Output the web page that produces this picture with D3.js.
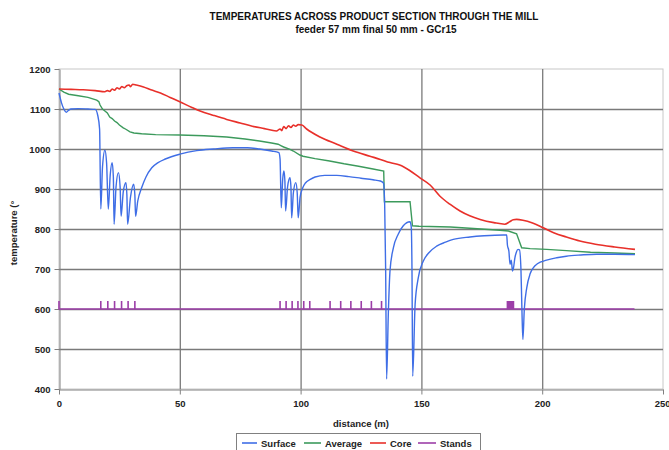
<!DOCTYPE html>
<html>
<head>
<meta charset="utf-8">
<script src="https://cdn.jsdelivr.net/npm/d3@7"></script>
<style>
  html, body { margin: 0; padding: 0; background: #ffffff; }
  svg { display: block; font-family: "Liberation Sans", Arial, sans-serif; }
</style>
</head>
<body>
<svg id="chart" width="669" height="450"></svg>
<script>
// ---------------- data ----------------
const titleLine1 = "TEMPERATURES ACROSS PRODUCT SECTION THROUGH THE MILL";
const titleLine2 = "feeder 57 mm final 50 mm - GCr15";
const xAxisTitle = "distance (m)";
const yAxisTitle = "temperature (°";
const xTicks = [0, 50, 100, 150, 200, 250];
const yTicks = [400, 500, 600, 700, 800, 900, 1000, 1100, 1200];
const seriesNames = ["Surface", "Average", "Core", "Stands"];

// Surface temperature [distance, temp]
const surface = [
  [0,1140],[1,1116],[2,1100],[3,1092],[4,1097],[5,1100],[8,1101],[12,1100],[15,1099],[16,1085],[16.8,1050],
  [17.3,850],[18,955],[19,997],[19.7,965],[20.4,850],[21.2,935],[22,966],[22.5,930],[22.8,812],
  [23.6,905],[24.6,941],[25.3,905],[25.7,832],[26.6,893],[27.7,916],[28.1,885],[28.4,812],
  [29.6,880],[30.9,912],[31.4,885],[31.7,832],[32.6,870],[34.2,903],[36,930],[38.4,953],[41,966],
  [44,975],[50,987],[57,996],[64,1000],[72,1003],[78,1003],[83,1000],[88,995],[91,991],[91.5,975],
  [92,853],[92.6,925],[93.1,945],[93.5,920],[93.8,845],[94.6,905],[95.6,928],[96,905],[96.3,828],
  [97,890],[98,916],[98.6,890],[99,828],[99.8,880],[100.9,903],[102,915],[104,924],[106,930],
  [110,934],[115,934],[120,931],[125,927],[130,923],[133,920],[134.3,915],[134.8,860],[135.2,700],
  [135.6,425],[136.3,587],[137,695],[138.4,753],[140.4,787],[142.5,808],[145.3,818],[145.8,805],
  [146.1,700],[146.4,432],[147.4,612],[148.7,678],[150.8,720],[153,740],[156.3,757],[160,767],
  [163.2,774],[170.1,780],[176,783],[183.9,785],[185.3,785],[185.6,760],[186.2,745],[186.7,712],
  [187.2,722],[187.7,695],[188.1,702],[188.7,728],[189.3,742],[190,749],[190.6,748],[191.2,700],
  [191.6,600],[192,524],[192.6,600],[193.6,653],[195,688],[196.3,703],[198,713],[201.8,722],
  [206,728],[210,732],[216,735],[222.5,737],[230,737],[238.4,736]
];

// Average temperature
const average = [
  [0,1150],[2,1142],[4,1137],[8,1133],[12,1129],[15.6,1122],[16.5,1118],[17,1110],[18,1100],[19,1095],
  [20,1090],[21,1080],[22,1076],[23,1070],[24,1066],[25,1060],[26.6,1053],[27.5,1050],[29.4,1043],
  [31,1040],[34.2,1038],[40,1036],[50,1035],[60,1033],[69.4,1030],[77,1025],[83,1020],[88,1015],
  [90.7,1012],[92,1008],[93,1005],[95.6,999],[97,995],[99.7,985],[101,982],[106,976],[112,970],
  [118,963],[124,957],[130,950],[134.4,945],[134.7,868],[145.3,868],[146.3,808],[149,807],[162,805],
  [170,802],[182.5,797],[186,795],[189.4,788],[191.5,753],[195,751],[201.8,749],[210,746],
  [220,742],[230,740],[238.4,738]
];

// Core temperature
const core = [
  [0,1150],[5,1149],[10,1148],[15,1146],[19,1143],[20,1146],[21,1144],[22,1150],[23,1147],[24,1153],
  [25,1150],[26,1156],[27,1153],[28,1158],[29,1160],[29.6,1156],[30.5,1162],[32,1160],[35,1155],
  [38,1148],[42,1140],[46,1129],[50,1118],[55,1104],[58.4,1095],[64,1084],[69.4,1074],[75,1065],
  [80,1057],[85,1051],[90,1045],[91.5,1050],[92.2,1046],[93,1056],[94,1051],[95,1058],[96,1054],
  [97,1060],[98,1057],[99,1061],[100.5,1060],[102.5,1050],[108,1030],[115,1012],[121.8,995],
  [128.7,982],[133,974],[137,966],[141,960],[145,947],[149.4,928],[153.6,910],[157.7,882],
  [161.8,862],[166,845],[170,833],[174.3,824],[180,816],[184.5,812],[186.5,818],[188,823],
  [189.4,824],[192,822],[196,815],[200.4,803],[205,790],[210,780],[215.6,770],[222,762],
  [230,755],[238.4,749]
];

// Stand positions (m), base level and marker top level
const standPositions = [0, 17.3, 20.2, 23, 25.9, 28.6, 31.4,
  91.5, 94, 96.5, 98.9, 101.3, 103.8,
  112.2, 116.6, 120.8, 125.1, 129.3, 133.5,
  185.6, 186.1, 186.6, 187.1, 187.6, 188.1];
const standBase = [600];
const standTop = [620];
const standLineEnd = [238.2];

// ---------------- drawing ----------------
const colors = { Surface: "#3f6ee6", Average: "#3c9a5c", Core: "#e8302a", Stands: "#9c3ea8" };
const svg = d3.select("#chart");
const x = d3.scaleLinear().domain([0, 250]).range([59, 663]);
const y = d3.scaleLinear().domain([400, 1200]).range([389, 69]);

// plot border (light)
svg.append("rect").attr("x", x(0)).attr("y", y(1200))
  .attr("width", x(250) - x(0)).attr("height", y(400) - y(1200))
  .attr("fill", "#fff").attr("stroke", "#c8c8c8").attr("stroke-width", 1);

// gridlines
const grid = svg.append("g");
grid.selectAll("line.h").data(yTicks.filter(d => d > 400 && d < 1200)).enter().append("line")
  .attr("x1", x(0)).attr("x2", x(250)).attr("y1", d => y(d) + 0.5).attr("y2", d => y(d) + 0.5)
  .attr("stroke", "#7a7a7a").attr("stroke-width", 1.3);
grid.selectAll("line.v").data(xTicks.filter(d => d > 0 && d < 250)).enter().append("line")
  .attr("y1", y(1200)).attr("y2", y(400)).attr("x1", d => x(d) + 0.5).attr("x2", d => x(d) + 0.5)
  .attr("stroke", "#7a7a7a").attr("stroke-width", 1.3);

// axes
const xAxis = d3.axisBottom(x).tickValues(xTicks).tickFormat(d3.format("d")).tickSize(5).tickSizeOuter(0).tickPadding(6);
const yAxis = d3.axisLeft(y).tickValues(yTicks).tickFormat(d3.format("d")).tickSize(5).tickSizeOuter(0).tickPadding(4);
const gx = svg.append("g").attr("transform", `translate(0,${y(400) + 0.5})`).call(xAxis);
const gy = svg.append("g").attr("transform", `translate(${x(0) + 0.5},0)`).call(yAxis);
[gx, gy].forEach(g => {
  g.select(".domain").attr("stroke", "#808080");
  g.selectAll(".tick line").attr("stroke", "#808080");
  g.selectAll(".tick text").attr("fill", "#222").style("font-size", "9.5px").style("font-weight", "bold")
    .style("font-family", '"Liberation Sans", Arial, sans-serif');
});
// keep the last x tick label inside the page
gx.selectAll(".tick text").filter(d => d === 250).attr("text-anchor", "end").attr("dx", "7px");

// lines
const lineSmooth = d3.line().x(d => x(d[0])).y(d => y(d[1])).curve(d3.curveMonotoneX);
const lineLin = d3.line().x(d => x(d[0])).y(d => y(d[1]));

// stands series
const standPts = [[0, standBase[0]]];
standPositions.forEach(p => { standPts.push([p, standBase[0]], [p, standTop[0]], [p, standBase[0]]); });
standPts.push([standLineEnd[0], standBase[0]]);
svg.append("path").attr("d", lineLin(standPts)).attr("fill", "none")
  .attr("stroke", colors.Stands).attr("stroke-width", 1.6);

svg.append("path").attr("d", lineLin(average)).attr("fill", "none")
  .attr("stroke", colors.Average).attr("stroke-width", 1.4);
svg.append("path").attr("d", lineSmooth(core)).attr("fill", "none")
  .attr("stroke", colors.Core).attr("stroke-width", 1.6);
svg.append("path").attr("d", lineSmooth(surface)).attr("fill", "none")
  .attr("stroke", colors.Surface).attr("stroke-width", 1.4);

// titles
svg.append("text").attr("x", 374).attr("y", 19.5).attr("text-anchor", "middle")
  .style("font-size", "10px").style("font-weight", "bold").attr("fill", "#111").text(titleLine1);
svg.append("text").attr("x", 376).attr("y", 32.5).attr("text-anchor", "middle")
  .style("font-size", "10px").style("font-weight", "bold").attr("fill", "#111").text(titleLine2);

// axis titles
svg.append("text").attr("x", 361).attr("y", 427).attr("text-anchor", "middle")
  .style("font-size", "9.5px").style("font-weight", "bold").attr("fill", "#222").text(xAxisTitle);
svg.append("text").attr("transform", "translate(17,233) rotate(-90)").attr("text-anchor", "middle")
  .style("font-size", "9.5px").style("font-weight", "bold").attr("fill", "#222").text(yAxisTitle);

// legend
const legend = svg.append("g");
legend.append("rect").attr("x", 236.5).attr("y", 433.5).attr("width", 244).attr("height", 20)
  .attr("fill", "#fff").attr("stroke", "#808080").attr("stroke-width", 1);
const legendPos = [
  { name: "Surface", x1: 242, x2: 257, tx: 261 },
  { name: "Average", x1: 304, x2: 321, tx: 325 },
  { name: "Core", x1: 370, x2: 386, tx: 390 },
  { name: "Stands", x1: 418, x2: 436, tx: 440 }
];
legendPos.forEach(l => {
  legend.append("line").attr("x1", l.x1).attr("x2", l.x2).attr("y1", 443).attr("y2", 443)
    .attr("stroke", colors[l.name]).attr("stroke-width", 1.6);
  legend.append("text").attr("x", l.tx).attr("y", 446.5).style("font-size", "9.5px")
    .style("font-weight", "bold").attr("fill", "#222").text(l.name);
});
</script>
</body>
</html>
